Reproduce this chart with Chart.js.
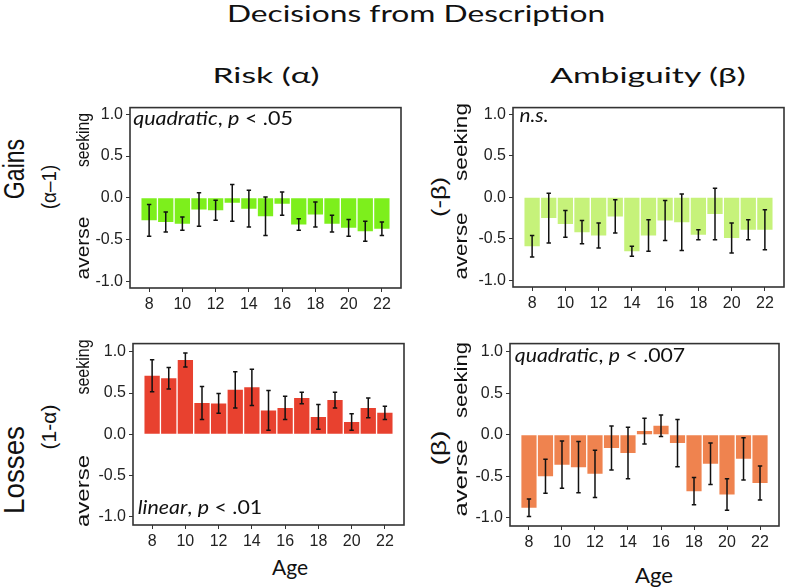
<!DOCTYPE html>
<html>
<head>
<meta charset="utf-8">
<script src="https://cdn.jsdelivr.net/npm/chart.js@4"></script>
<style>
  html, body { margin: 0; padding: 0; background: #fff; overflow: hidden; }
  #fig { position: relative; width: 787px; height: 588px; }
  canvas { position: absolute; }
  .lbl { position: absolute; white-space: nowrap; color: #111; }
</style>
</head>
<body>
<div id="fig"></div>
<script>
// ages on the x axis, ticks shown every two years
const ages = [8, 9, 10, 11, 12, 13, 14, 15, 16, 17, 18, 19, 20, 21, 22];
const xTicks = [8, 10, 12, 14, 16, 18, 20, 22];
const yTicks = [-1, -0.5, 0, 0.5, 1];

// Gains, risk (alpha-1)
const gainsRisk    = [-0.27, -0.29, -0.31, -0.14, -0.15, -0.06, -0.13, -0.22, -0.07, -0.32, -0.20, -0.31, -0.36, -0.40, -0.37];
const gainsRiskErr = [0.19, 0.12, 0.08, 0.20, 0.12, 0.22, 0.22, 0.23, 0.14, 0.07, 0.15, 0.10, 0.10, 0.12, 0.08];

// Gains, ambiguity (-beta)
const gainsAmb     = [-0.59, -0.25, -0.32, -0.42, -0.46, -0.23, -0.65, -0.46, -0.28, -0.30, -0.45, -0.20, -0.49, -0.39, -0.39];
const gainsAmbErr  = [0.13, 0.30, 0.16, 0.14, 0.15, 0.20, 0.06, 0.19, 0.24, 0.34, 0.06, 0.31, 0.18, 0.12, 0.24];

// Losses, risk (1-alpha)
const lossRisk     = [0.71, 0.68, 0.90, 0.38, 0.375, 0.54, 0.57, 0.29, 0.32, 0.44, 0.21, 0.415, 0.15, 0.32, 0.26];
const lossRiskErr  = [0.195, 0.13, 0.085, 0.20, 0.12, 0.22, 0.22, 0.24, 0.14, 0.07, 0.15, 0.095, 0.10, 0.12, 0.08];

// Losses, ambiguity (beta)
const lossAmb      = [-0.88, -0.50, -0.36, -0.39, -0.47, -0.16, -0.22, 0.045, 0.11, -0.10, -0.68, -0.35, -0.72, -0.29, -0.58];
const lossAmbErr   = [0.105, 0.205, 0.285, 0.31, 0.285, 0.265, 0.31, 0.155, 0.13, 0.285, 0.165, 0.25, 0.19, 0.255, 0.205];

const fig = document.getElementById('fig');

const boxPlugin = {
  id: 'box',
  afterDraw(chart) {
    const a = chart.chartArea, ctx = chart.ctx;
    ctx.save();
    ctx.strokeStyle = '#333';
    ctx.lineWidth = 1.6;
    ctx.strokeRect(a.left, a.top, a.right - a.left, a.bottom - a.top);
    ctx.restore();
  }
};

function errPlugin(vals, errs) {
  return {
    id: 'err',
    afterDatasetsDraw(chart) {
      const ctx = chart.ctx, x = chart.scales.x, y = chart.scales.y;
      ctx.save();
      ctx.strokeStyle = '#111';
      ctx.lineWidth = 1.5;
      ages.forEach((a, i) => {
        const px = x.getPixelForValue(a);
        const lo = y.getPixelForValue(vals[i] - errs[i]);
        const hi = y.getPixelForValue(vals[i] + errs[i]);
        ctx.beginPath();
        ctx.moveTo(px, lo); ctx.lineTo(px, hi);
        ctx.moveTo(px - 2.2, lo); ctx.lineTo(px + 2.2, lo);
        ctx.moveTo(px - 2.2, hi); ctx.lineTo(px + 2.2, hi);
        ctx.stroke();
      });
      ctx.restore();
    }
  };
}

const tickFont = { size: 16, family: 'Liberation Sans, Arial, sans-serif' };

function makePanel(vals, errs, color, box, lim) {
  const [L, T, R, B] = box;
  const W = R - L + 43, H = B - T + 36;
  const cv = document.createElement('canvas');
  cv.width = W; cv.height = H;
  cv.style.left = (L - 40) + 'px';
  cv.style.top = (T - 8) + 'px';
  cv.style.width = W + 'px';
  cv.style.height = H + 'px';
  fig.appendChild(cv);

  new Chart(cv, {
    type: 'bar',
    data: {
      datasets: [{
        data: ages.map((a, i) => ({ x: a, y: vals[i] })),
        backgroundColor: color,
        borderWidth: 0,
        barPercentage: 0.92,
        categoryPercentage: 1
      }]
    },
    options: {
      responsive: false,
      animation: false,
      layout: { padding: { left: 0, top: 8, right: 3, bottom: 0 } },
      plugins: { legend: { display: false }, tooltip: { enabled: false } },
      scales: {
        x: {
          type: 'linear', min: 6.85, max: 23.15, offset: false,
          afterBuildTicks: s => { s.ticks = xTicks.map(v => ({ value: v })); },
          afterFit: s => { s.height = 28; },
          grid: { display: true, offset: false, drawOnChartArea: false, drawTicks: true, tickLength: 4, color: '#333' },
          border: { display: false },
          ticks: { font: tickFont, color: '#222', padding: 3, maxRotation: 0, autoSkip: false }
        },
        y: {
          min: -lim, max: lim,
          afterBuildTicks: s => { s.ticks = yTicks.map(v => ({ value: v })); },
          afterFit: s => { s.width = 40; },
          grid: { display: true, drawOnChartArea: false, drawTicks: true, tickLength: 4, color: '#333' },
          border: { display: false },
          ticks: { font: tickFont, color: '#222', padding: 3, callback: v => v.toFixed(1) }
        }
      }
    },
    plugins: [boxPlugin, errPlugin(vals, errs)]
  });
}

makePanel(gainsRisk, gainsRiskErr, '#7def1c', [130, 103, 401, 288], 1.08);
makePanel(gainsAmb, gainsAmbErr, '#c6f27a', [513, 103, 784, 287], 1.08);
makePanel(lossRisk, lossRiskErr, '#e8412f', [133, 339, 404, 525], 1.1);
makePanel(lossAmb, lossAmbErr, '#ef834f', [510, 339, 779, 526], 1.1);

// text around the panels: centre x/y, target length along the text
// (no len = reuse the stretch of the previous label)
const SANS = 'Liberation Sans, Arial, sans-serif';
const CAL = 'Lato, "Open Sans", sans-serif';
const labels = [
  { html: 'Decisions from Description', cx: 416, cy: 13, len: 378, size: 23, font: CAL },
  { html: 'Risk (&alpha;)', cx: 266, cy: 75, len: 107, size: 22, font: CAL },
  { html: 'Ambiguity (&beta;)', cx: 648, cy: 75, size: 22, font: CAL },
  { html: 'Age', cx: 290, cy: 566, len: 36, size: 21, font: CAL },
  { html: 'Age', cx: 654, cy: 574, len: 38, size: 21, font: CAL },

  { html: '<i>quadratic</i>, <i>p</i> &lt; .05', cx: 213, cy: 117, len: 160, size: 20, font: CAL },
  { html: '<i>n.s.</i>', cx: 534, cy: 114, len: 29, size: 20, font: CAL },
  { html: '<i>linear</i>, <i>p</i> &lt; .01', cx: 200, cy: 506, len: 124, size: 20, font: CAL },
  { html: '<i>quadratic</i>, <i>p</i> &lt; .007', cx: 600, cy: 354, len: 170, size: 20, font: CAL },

  { html: 'Gains', cx: 14, cy: 169, len: 60, size: 30, font: SANS, rot: -90 },
  { html: '(&alpha;&ndash;1)', cx: 48, cy: 187, len: 45, size: 21, font: SANS, rot: -90 },
  { html: 'seeking', cx: 83, cy: 140, len: 54, size: 18, font: SANS, rot: -90 },
  { html: 'averse', cx: 83, cy: 248, len: 63, size: 18, font: SANS, rot: -90 },

  { html: '(-&beta;)', cx: 438, cy: 197, len: 40, size: 21, font: SANS, rot: -90 },
  { html: 'seeking', cx: 461, cy: 142, len: 78, size: 18, font: SANS, rot: -90 },
  { html: 'averse', cx: 461, cy: 246, len: 67, size: 18, font: SANS, rot: -90 },

  { html: 'Losses', cx: 14, cy: 470, len: 88, size: 30, font: SANS, rot: -90 },
  { html: '(1-&alpha;)', cx: 48, cy: 427, len: 45, size: 21, font: SANS, rot: -90 },
  { html: 'seeking', cx: 83, cy: 367, len: 55, size: 18, font: SANS, rot: -90 },
  { html: 'averse', cx: 83, cy: 491, len: 72, size: 18, font: SANS, rot: -90 },

  { html: '(&beta;)', cx: 438, cy: 448, len: 35, size: 21, font: SANS, rot: -90 },
  { html: 'seeking', cx: 461, cy: 380, len: 76, size: 18, font: SANS, rot: -90 },
  { html: 'averse', cx: 461, cy: 478, len: 77, size: 18, font: SANS, rot: -90 }
];

let lastK = 1;
labels.forEach(l => {
  const el = document.createElement('div');
  el.className = 'lbl';
  el.innerHTML = l.html;
  el.style.fontFamily = l.font;
  el.style.fontSize = l.size + 'px';
  el.style.lineHeight = '1';
  el.style.left = l.cx + 'px';
  el.style.top = l.cy + 'px';
  fig.appendChild(el);
  const k = l.len ? l.len / el.offsetWidth : lastK;
  lastK = k;
  el.style.transform = `translate(-50%, -50%) rotate(${l.rot || 0}deg) scaleX(${k.toFixed(3)})`;
});
</script>
</body>
</html>
